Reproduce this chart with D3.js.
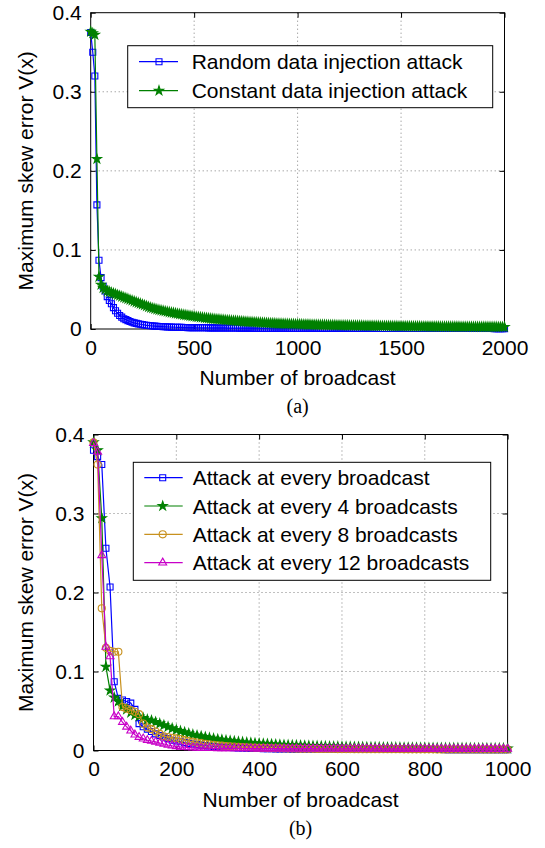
<!DOCTYPE html>
<html>
<head>
<meta charset="utf-8">
<script src="https://cdn.jsdelivr.net/npm/d3@7"></script>
<style>
  body { margin: 0; background: #fff; }
  text { font-family: "Liberation Sans", Arial, sans-serif; }
</style>
</head>
<body>
<svg id="fig" width="545" height="848"></svg>
<script>
// ---------- Panel (a): data injection attack types ----------
const xTicksA = [0, 500, 1000, 1500, 2000];
const yTicks = [0, 0.1, 0.2, 0.3, 0.4];
const yTickLabels = ["0", "0.1", "0.2", "0.3", "0.4"];
// one sample every 10 broadcasts
const broadcastsA = d3.range(0, 2001, 10);

const randomAttack = [
  0.375, 0.350, 0.320, 0.157, 0.087, 0.065, 0.054, 0.048, 0.041, 0.036,
  0.032, 0.027, 0.023, 0.020, 0.017, 0.015, 0.013, 0.0118, 0.0106, 0.0095,
  0.0086, 0.0078, 0.0071, 0.0065, 0.0060, 0.0055, 0.0051, 0.0047, 0.0044, 0.0041,
  0.0038, 0.0036, 0.0034, 0.0032, 0.0031, 0.0029, 0.0028, 0.0026, 0.0025, 0.0024,
  0.0023, 0.0022, 0.0021, 0.0021, 0.0020, 0.0019, 0.0019, 0.0018, 0.0018, 0.0017,
  0.0017, 0.0016, 0.0016, 0.0016, 0.0015, 0.0015, 0.0015, 0.0014, 0.0014, 0.0014,
  0.0014, 0.0013, 0.0013, 0.0013, 0.0013, 0.0013, 0.0012, 0.0012, 0.0012, 0.0012,
  0.0012, 0.0012, 0.0011, 0.0011, 0.0011, 0.0011, 0.0011, 0.0011, 0.0010, 0.0010,
  0.0010, 0.0010, 0.0010, 0.0010, 0.0010, 0.0010, 0.0010, 0.0010, 0.0010, 0.0010,
  0.0010, 0.0010, 0.0009, 0.0009, 0.0009, 0.0009, 0.0009, 0.0009, 0.0009, 0.0009,
  0.0009, 0.0009, 0.0009, 0.0009, 0.0009, 0.0009, 0.0009, 0.0009, 0.0009, 0.0009,
  0.0009, 0.0009, 0.0008, 0.0008, 0.0008, 0.0008, 0.0008, 0.0008, 0.0008, 0.0008,
  0.0008, 0.0008, 0.0008, 0.0008, 0.0008, 0.0008, 0.0008, 0.0008, 0.0008, 0.0008,
  0.0008, 0.0008, 0.0008, 0.0008, 0.0008, 0.0007, 0.0007, 0.0007, 0.0007, 0.0007,
  0.0007, 0.0007, 0.0007, 0.0007, 0.0007, 0.0007, 0.0007, 0.0007, 0.0007, 0.0007,
  0.0007, 0.0007, 0.0007, 0.0007, 0.0007, 0.0007, 0.0007, 0.0007, 0.0007, 0.0007,
  0.0007, 0.0007, 0.0007, 0.0006, 0.0006, 0.0006, 0.0006, 0.0006, 0.0006, 0.0006,
  0.0006, 0.0006, 0.0006, 0.0006, 0.0006, 0.0006, 0.0006, 0.0006, 0.0006, 0.0006,
  0.0006, 0.0006, 0.0006, 0.0006, 0.0006, 0.0006, 0.0006, 0.0006, 0.0006, 0.0006,
  0.0006, 0.0006, 0.0006, 0.0006, 0.0006, 0.0005, 0.0005, 0.0005, 0.0005, 0.0005,
  0.0005
];

const constantAttack = [
  0.376, 0.374, 0.372, 0.215, 0.066, 0.056, 0.052, 0.050, 0.048, 0.047,
  0.046, 0.045, 0.044, 0.043, 0.042, 0.041, 0.040, 0.039, 0.038, 0.037,
  0.036, 0.035, 0.034, 0.033, 0.032, 0.031, 0.030, 0.029, 0.028, 0.027,
  0.0262, 0.0255, 0.0248, 0.0242, 0.0236, 0.0230, 0.0224, 0.0218, 0.0213, 0.0208,
  0.0203, 0.0198, 0.0193, 0.0188, 0.0184, 0.0179, 0.0175, 0.0171, 0.0167, 0.0163,
  0.0159, 0.0155, 0.0152, 0.0148, 0.0145, 0.0141, 0.0138, 0.0135, 0.0132, 0.0129,
  0.0126, 0.0123, 0.0121, 0.0118, 0.0116, 0.0113, 0.0111, 0.0108, 0.0106, 0.0104,
  0.0102, 0.0100, 0.0098, 0.0096, 0.0094, 0.0092, 0.0090, 0.0088, 0.0087, 0.0085,
  0.0083, 0.0082, 0.0080, 0.0079, 0.0077, 0.0076, 0.0074, 0.0073, 0.0072, 0.0070,
  0.0069, 0.0068, 0.0067, 0.0066, 0.0065, 0.0064, 0.0063, 0.0062, 0.0061, 0.0060,
  0.0060, 0.0059, 0.0058, 0.0057, 0.0057, 0.0056, 0.0055, 0.0054, 0.0054, 0.0053,
  0.0052, 0.0052, 0.0051, 0.0051, 0.0050, 0.0049, 0.0049, 0.0048, 0.0048, 0.0047,
  0.0047, 0.0046, 0.0046, 0.0045, 0.0045, 0.0044, 0.0044, 0.0043, 0.0043, 0.0042,
  0.0042, 0.0042, 0.0041, 0.0041, 0.0040, 0.0040, 0.0040, 0.0039, 0.0039, 0.0039,
  0.0038, 0.0038, 0.0038, 0.0037, 0.0037, 0.0037, 0.0036, 0.0036, 0.0036, 0.0035,
  0.0035, 0.0035, 0.0035, 0.0034, 0.0034, 0.0034, 0.0033, 0.0033, 0.0033, 0.0033,
  0.0032, 0.0032, 0.0032, 0.0032, 0.0031, 0.0031, 0.0031, 0.0031, 0.0031, 0.0030,
  0.0030, 0.0030, 0.0030, 0.0030, 0.0029, 0.0029, 0.0029, 0.0029, 0.0029, 0.0028,
  0.0028, 0.0028, 0.0028, 0.0028, 0.0028, 0.0027, 0.0027, 0.0027, 0.0027, 0.0027,
  0.0027, 0.0026, 0.0026, 0.0026, 0.0026, 0.0026, 0.0026, 0.0025, 0.0025, 0.0025,
  0.0025
];

const legendA = ["Random data injection attack", "Constant data injection attack"];

// ---------- Panel (b): attack frequency ----------
const xTicksB = [0, 200, 400, 600, 800, 1000];
const broadcastsB = d3.range(0, 1001, 10);

const everyBroadcast = [
  0.380, 0.372, 0.362, 0.256, 0.207, 0.087, 0.066, 0.064, 0.062, 0.060,
  0.052, 0.034, 0.030, 0.027, 0.024, 0.021, 0.019, 0.017, 0.015, 0.013,
  0.012, 0.011, 0.010, 0.0090, 0.0082, 0.0075, 0.0068, 0.0062, 0.0057, 0.0052,
  0.0048, 0.0044, 0.0041, 0.0038, 0.0035, 0.0033, 0.0031, 0.0029, 0.0027, 0.0026,
  0.0025, 0.0024, 0.0023, 0.0022, 0.0021, 0.0020, 0.0019, 0.0019, 0.0018, 0.0018,
  0.0017, 0.0017, 0.0016, 0.0016, 0.0016, 0.0015, 0.0015, 0.0015, 0.0015, 0.0014,
  0.0014, 0.0014, 0.0014, 0.0014, 0.0013, 0.0013, 0.0013, 0.0013, 0.0013, 0.0013,
  0.0013, 0.0013, 0.0013, 0.0012, 0.0012, 0.0012, 0.0012, 0.0012, 0.0012, 0.0012,
  0.0012, 0.0012, 0.0012, 0.0012, 0.0012, 0.0011, 0.0011, 0.0011, 0.0011, 0.0011,
  0.0011, 0.0011, 0.0011, 0.0011, 0.0011, 0.0011, 0.0011, 0.0011, 0.0011, 0.0011,
  0.0011
];

const every4 = [
  0.390, 0.380, 0.294, 0.106, 0.076, 0.067, 0.062, 0.056, 0.052, 0.048,
  0.045, 0.043, 0.041, 0.039, 0.038, 0.036, 0.034, 0.032, 0.030, 0.028,
  0.026, 0.0245, 0.023, 0.0215, 0.020, 0.019, 0.018, 0.017, 0.016, 0.015,
  0.0142, 0.0135, 0.0128, 0.0122, 0.0116, 0.0110, 0.0105, 0.0100, 0.0096, 0.0092,
  0.0088, 0.0085, 0.0082, 0.0079, 0.0076, 0.0073, 0.0070, 0.0068, 0.0066, 0.0064,
  0.0062, 0.0060, 0.0058, 0.0056, 0.0055, 0.0053, 0.0052, 0.0050, 0.0049, 0.0048,
  0.0047, 0.0046, 0.0045, 0.0044, 0.0043, 0.0042, 0.0041, 0.0040, 0.0040, 0.0039,
  0.0038, 0.0038, 0.0037, 0.0036, 0.0036, 0.0035, 0.0035, 0.0034, 0.0034, 0.0033,
  0.0033, 0.0032, 0.0032, 0.0031, 0.0031, 0.0031, 0.0030, 0.0030, 0.0030, 0.0029,
  0.0029, 0.0029, 0.0028, 0.0028, 0.0028, 0.0027, 0.0027, 0.0027, 0.0027, 0.0026,
  0.0026
];

const every8 = [
  0.390, 0.362, 0.180, 0.130, 0.126, 0.125, 0.125, 0.055, 0.053, 0.051,
  0.049, 0.046, 0.034, 0.029, 0.027, 0.024, 0.021, 0.018, 0.017, 0.016,
  0.0155, 0.0145, 0.013, 0.012, 0.011, 0.010, 0.0092, 0.0085, 0.0078, 0.0072,
  0.0066, 0.0061, 0.0057, 0.0053, 0.0049, 0.0046, 0.0043, 0.0040, 0.0038, 0.0036,
  0.0034, 0.0032, 0.0031, 0.0029, 0.0028, 0.0027, 0.0026, 0.0025, 0.0024, 0.0023,
  0.0022, 0.0022, 0.0021, 0.0021, 0.0020, 0.0020, 0.0019, 0.0019, 0.0019, 0.0018,
  0.0018, 0.0018, 0.0018, 0.0017, 0.0017, 0.0017, 0.0017, 0.0016, 0.0016, 0.0016,
  0.0016, 0.0016, 0.0016, 0.0016, 0.0016, 0.0015, 0.0015, 0.0015, 0.0015, 0.0015,
  0.0015, 0.0015, 0.0015, 0.0014, 0.0014, 0.0014, 0.0014, 0.0014, 0.0014, 0.0014,
  0.0014, 0.0014, 0.0014, 0.0014, 0.0013, 0.0013, 0.0013, 0.0013, 0.0013, 0.0013,
  0.0013
];

const every12 = [
  0.389, 0.378, 0.247, 0.131, 0.119, 0.043, 0.043, 0.036, 0.030, 0.025,
  0.020, 0.017, 0.015, 0.013, 0.012, 0.011, 0.0095, 0.0082, 0.0070, 0.0060,
  0.0052, 0.0046, 0.0042, 0.0038, 0.0035, 0.0033, 0.0031, 0.0030, 0.0029, 0.0028,
  0.0027, 0.0027, 0.0026, 0.0026, 0.0026, 0.0025, 0.0025, 0.0025, 0.0025, 0.0024,
  0.0024, 0.0024, 0.0024, 0.0024, 0.0024, 0.0023, 0.0023, 0.0023, 0.0023, 0.0023,
  0.0023, 0.0023, 0.0023, 0.0023, 0.0022, 0.0022, 0.0022, 0.0022, 0.0022, 0.0022,
  0.0022, 0.0022, 0.0022, 0.0022, 0.0022, 0.0022, 0.0022, 0.0022, 0.0022, 0.0022,
  0.0021, 0.0021, 0.0021, 0.0021, 0.0021, 0.0021, 0.0021, 0.0021, 0.0021, 0.0021,
  0.0021, 0.0021, 0.0021, 0.0021, 0.0021, 0.0021, 0.0021, 0.0021, 0.0021, 0.0021,
  0.0020, 0.0020, 0.0020, 0.0020, 0.0020, 0.0020, 0.0020, 0.0020, 0.0020, 0.0020,
  0.0020
];

const legendB = [
  "Attack at every broadcast",
  "Attack at every 4 broadcasts",
  "Attack at every 8 broadcasts",
  "Attack at every 12 broadcasts"
];

// ---------- marker styles ----------
const BLUE = "#0000ff", GREEN = "#008000", ORANGE = "#c8911e", MAGENTA = "#c800c8";
const markerStyles = {
  square:   { type: d3.symbolSquare,   size: 36, filled: false },
  star:     { type: d3.symbolStar,     size: 26, filled: true },
  circle:   { type: d3.symbolCircle,   size: 40, filled: false },
  triangle: { type: d3.symbolTriangle, size: 27, filled: false }
};

const svg = d3.select("#fig");
const FONT = 21;

function drawPanel(cfg) {
  const g = svg.append("g");
  const x = d3.scaleLinear().domain(cfg.xDomain).range([cfg.left, cfg.right]);
  const y = d3.scaleLinear().domain([0, 0.4]).range([cfg.bottom, cfg.top]);

  // dotted grid
  const grid = g.append("g").attr("stroke", "#808080").attr("stroke-width", 1)
    .attr("stroke-dasharray", "1,3");
  cfg.xTicks.slice(1, -1).forEach(t => {
    grid.append("line").attr("x1", x(t)).attr("x2", x(t))
      .attr("y1", cfg.top).attr("y2", cfg.bottom);
  });
  yTicks.slice(1, -1).forEach(t => {
    grid.append("line").attr("x1", cfg.left).attr("x2", cfg.right)
      .attr("y1", y(t)).attr("y2", y(t));
  });

  // axes with inward ticks on all four sides
  const styleAxis = sel => {
    sel.select(".domain").remove();
    sel.selectAll("text").attr("font-size", FONT).attr("fill", "#000")
      .attr("font-family", "Liberation Sans, Arial, sans-serif");
    sel.selectAll("line").attr("stroke", "#000");
  };
  g.append("g").attr("transform", `translate(0,${cfg.bottom})`)
    .call(d3.axisBottom(x).tickValues(cfg.xTicks).tickFormat(d3.format("d"))
      .tickSizeInner(-5).tickSizeOuter(0).tickPadding(11))
    .call(styleAxis);
  g.append("g").attr("transform", `translate(0,${cfg.top})`)
    .call(d3.axisTop(x).tickValues(cfg.xTicks).tickFormat("")
      .tickSizeInner(-5).tickSizeOuter(0))
    .call(styleAxis);
  g.append("g").attr("transform", `translate(${cfg.left},0)`)
    .call(d3.axisLeft(y).tickValues(yTicks).tickFormat((d, i) => yTickLabels[i])
      .tickSizeInner(-5).tickSizeOuter(0).tickPadding(9))
    .call(styleAxis);
  g.append("g").attr("transform", `translate(${cfg.right},0)`)
    .call(d3.axisRight(y).tickValues(yTicks).tickFormat("")
      .tickSizeInner(-5).tickSizeOuter(0))
    .call(styleAxis);

  // frame
  g.append("rect").attr("x", cfg.left).attr("y", cfg.top)
    .attr("width", cfg.right - cfg.left).attr("height", cfg.bottom - cfg.top)
    .attr("fill", "none").attr("stroke", "#000").attr("stroke-width", 1);

  // series
  const line = d3.line().x(d => x(d[0])).y(d => y(d[1]));
  cfg.series.forEach(s => {
    const n = Math.min(s.xs.length, s.ys.length);
    const pts = d3.range(n).map(i => [s.xs[i], s.ys[i]]);
    g.append("path").datum(pts).attr("d", line)
      .attr("fill", "none").attr("stroke", s.color).attr("stroke-width", 1.2);
    const m = markerStyles[s.marker];
    const sym = d3.symbol().type(m.type).size(m.size);
    g.append("g").selectAll("path").data(pts).join("path")
      .attr("transform", d => `translate(${x(d[0])},${y(d[1])})`)
      .attr("d", sym)
      .attr("fill", m.filled ? s.color : "none")
      .attr("stroke", s.color).attr("stroke-width", 1.1);
  });

  // legend
  const L = cfg.legend;
  const lg = g.append("g");
  lg.append("rect").attr("x", L.x).attr("y", L.y).attr("width", L.w).attr("height", L.h)
    .attr("fill", "#fff").attr("stroke", "#000").attr("stroke-width", 1);
  cfg.series.forEach((s, i) => {
    const ry = L.rows[i];
    lg.append("line").attr("x1", L.x + L.lineStart).attr("x2", L.x + L.lineEnd)
      .attr("y1", ry).attr("y2", ry).attr("stroke", s.color).attr("stroke-width", 1.2);
    const m = markerStyles[s.marker];
    lg.append("path").attr("d", d3.symbol().type(m.type).size(m.size))
      .attr("transform", `translate(${L.x + L.marker},${ry})`)
      .attr("fill", m.filled ? s.color : "none")
      .attr("stroke", s.color).attr("stroke-width", 1.1);
    lg.append("text").attr("x", L.x + L.text).attr("y", ry).attr("dy", "0.36em")
      .attr("font-size", FONT).attr("fill", "#000").text(s.label);
  });

  // axis titles
  const cx = (cfg.left + cfg.right) / 2;
  g.append("text").attr("x", cx).attr("y", cfg.bottom + 56)
    .attr("text-anchor", "middle").attr("font-size", FONT).text("Number of broadcast");
  g.append("text")
    .attr("transform", `translate(33,${(cfg.top + cfg.bottom) / 2}) rotate(-90)`)
    .attr("text-anchor", "middle").attr("font-size", FONT).text("Maximum skew error V(x)");
  g.append("text").attr("x", cx).attr("y", cfg.bottom + 84)
    .attr("text-anchor", "middle").attr("font-size", 20)
    .style("font-family", "'Liberation Serif', 'Times New Roman', serif")
    .text(cfg.caption);
}

drawPanel({
  left: 90.7, right: 504.5, top: 12.7, bottom: 329,
  xDomain: [0, 2000], xTicks: xTicksA, caption: "(a)",
  series: [
    { xs: broadcastsA, ys: randomAttack, color: BLUE, marker: "square", label: legendA[0] },
    { xs: broadcastsA, ys: constantAttack, color: GREEN, marker: "star", label: legendA[1] }
  ],
  legend: { x: 127.7, y: 45.7, w: 365, h: 62, rows: [61.7, 90.7],
            lineStart: 11.3, lineEnd: 50.3, marker: 31.3, text: 64 }
});

drawPanel({
  left: 93.5, right: 507.6, top: 434.5, bottom: 750.5,
  xDomain: [0, 1000], xTicks: xTicksB, caption: "(b)",
  series: [
    { xs: broadcastsB, ys: everyBroadcast, color: BLUE, marker: "square", label: legendB[0] },
    { xs: broadcastsB, ys: every4, color: GREEN, marker: "star", label: legendB[1] },
    { xs: broadcastsB, ys: every8, color: ORANGE, marker: "circle", label: legendB[2] },
    { xs: broadcastsB, ys: every12, color: MAGENTA, marker: "triangle", label: legendB[3] }
  ],
  legend: { x: 133.3, y: 462.3, w: 357.4, h: 118, rows: [477.7, 506, 534.3, 562.7],
            lineStart: 11, lineEnd: 49.4, marker: 29.4, text: 59.4 }
});
</script>
</body>
</html>
